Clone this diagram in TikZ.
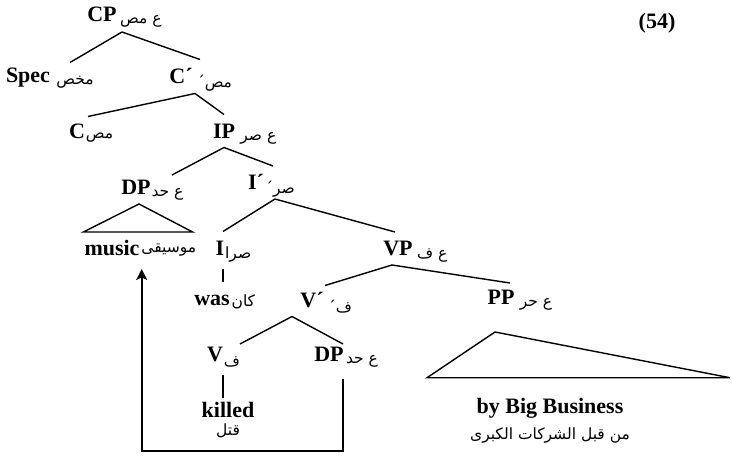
\documentclass[tikz,border=0pt]{standalone}
\usepackage{fontspec}
\setmainfont{Liberation Serif}
\newfontfamily\arabicfont[Script=Arabic]{DejaVu Sans}
\TeXXeTstate=1
\usetikzlibrary{arrows.meta}
\newcommand\artxt[1]{{\arabicfont\beginR #1\endR}}

\begin{document}
\begin{tikzpicture}[x=1pt,y=-1pt,
		cat/.style={font=\fontsize{22}{24}\selectfont\bfseries,inner xsep=0pt,inner ysep=9pt,
			text height=14.6pt,text depth=0pt},
		gloss/.style={font=\fontsize{15.5}{17}\selectfont,inner sep=0pt,anchor=west},
		word/.style={font=\fontsize{22}{24}\selectfont\bfseries,inner sep=1pt},
		br/.style={line width=1.4pt},
		mv/.style={line width=1.7pt,-{Stealth[length=11pt,width=11pt,inset=2.5pt]}}]
	\useasboundingbox (0,0) rectangle (732,457);
	
	% ============ labels of the tree ============
	\node[word] (exno) at (657,23) {(54)};
	\node[cat] (cp) at (102,14.5) {CP};
	\node[cat] (spec) at (28,75) {Spec};
	\node[cat] (cbar) at (181,76) {C´};
	\node[cat] (c) at (77,131) {C};
	\node[cat] (ip) at (224,131) {IP};
	\node[cat] (dp) at (136,187.5) {DP};
	\node[cat] (ibar) at (256,182.5) {I´};
	\node[cat] (i) at (220,248) {I};
	\node[cat] (vp) at (398,248.5) {VP};
	\node[cat] (vbar) at (312,300) {V´};
	\node[cat] (pp) at (501,297.5) {PP};
	\node[cat] (v) at (215,354.5) {V};
	\node[cat] (dpobj) at (329,354.5) {DP};
	
	% Arabic glosses to the right of each label
	\node[gloss] (cp-ar) at ([xshift=3pt,yshift=-7pt]cp.east) {\artxt{ع مص}};
	\node[gloss] (spec-ar) at ([xshift=6pt,yshift=-7pt]spec.east) {\artxt{مخص}};
	\node[gloss] (cbar-ar) at ([xshift=4pt,yshift=-7pt]cbar.east) {\artxt{مص´}};
	\node[gloss] (c-ar) at ([xshift=0.5pt,yshift=-7pt]c.east) {\artxt{مص}};
	\node[gloss] (ip-ar) at ([xshift=5pt,yshift=-7pt]ip.east) {\artxt{ع صر}};
	\node[gloss] (dp-ar) at ([xshift=0.5pt,yshift=-7pt]dp.east) {\artxt{ع حد}};
	\node[gloss] (ibar-ar) at ([xshift=1pt,yshift=-7pt]ibar.east) {\artxt{صر´}};
	\node[gloss] (i-ar) at ([xshift=0.5pt,yshift=-7pt]i.east) {\artxt{صرا}};
	\node[gloss] (vp-ar) at ([xshift=4pt,yshift=-7pt]vp.east) {\artxt{ع ف}};
	\node[gloss] (vbar-ar) at ([xshift=4pt,yshift=-7pt]vbar.east) {\artxt{ف´}};
	\node[gloss] (pp-ar) at ([xshift=5pt,yshift=-7pt]pp.east) {\artxt{ع حر}};
	\node[gloss] (v-ar) at ([xshift=0.5pt,yshift=-7pt]v.east) {\artxt{ف}};
	\node[gloss] (dpobj-ar) at ([xshift=2pt,yshift=-7pt]dpobj.east) {\artxt{ع حد}};
	
	% ============ words at the leaves ============
	\node[word] (music) at (112,248) {music};
	\node[gloss] (music-ar) at ([xshift=0.5pt,yshift=-2pt]music.east) {\artxt{موسيقى}};
	\node[word] (was) at (212,300) {was};
	\node[gloss] (was-ar) at ([xshift=0.5pt,yshift=-2pt]was.east) {\artxt{كان}};
	\node[word] (killed) at (228,410) {killed};
	\node[gloss,anchor=center] (killed-ar) at (228,431) {\artxt{قتل}};
	\node[word] (bbb) at (550,408) {by Big Business};
	\node[gloss,anchor=center] (bbb-ar) at (550,436) {\artxt{من قبل الشركات الكبرى}};
	
	% ============ branches ============
	\draw[br] ([xshift=20pt,yshift=-1pt]cp.south) -- ([xshift=42pt,yshift=-4pt]spec.north);
	\draw[br] ([xshift=20pt,yshift=-1pt]cp.south) -- ([xshift=19pt]cbar.north);
	\draw[br] ([xshift=14pt,yshift=-1pt]cbar.south) -- ([xshift=11pt,yshift=-2pt]c.north);
	\draw[br] ([xshift=14pt,yshift=-1pt]cbar.south) -- (ip.north);
	\draw[br] (ip.south) -- ([xshift=36pt,yshift=-4pt]dp.north);
	\draw[br] (ip.south) -- ([xshift=17pt]ibar.north);
	\draw[br] ([xshift=19pt]ibar.south) -- ([xshift=3pt]i.north);
	\draw[br] ([xshift=19pt]ibar.south) -- ([xshift=-3pt]vp.north);
	\draw[br] ([xshift=3pt,yshift=-5pt]i.south) -- ([xshift=11pt,yshift=12pt]was.north);
	\draw[br] ([xshift=-6pt]vp.south) -- ([xshift=13pt,yshift=-2pt]vbar.north);
	\draw[br] ([xshift=-6pt]vp.south) -- ([xshift=9pt,yshift=-2pt]pp.north);
	\draw[br] ([xshift=-20pt]vbar.south) -- ([xshift=25pt,yshift=-6pt]v.north);
	\draw[br] ([xshift=-20pt]vbar.south) -- ([xshift=14pt,yshift=-6pt]dpobj.north);
	\draw[br] ([xshift=8pt,yshift=-4pt]v.south) -- ([xshift=-5pt,yshift=3pt]killed.north);
	
	% triangles over the phrases that are not split up
	\draw[br] ([xshift=3pt]dp.south) -- ([yshift=7pt]music.north west)
		-- ([xshift=52pt,yshift=7pt]music.north east) -- cycle;
	\draw[br] ([xshift=-6pt,yshift=-18pt]pp.south) -- ([xshift=-123pt,yshift=19pt]bbb.north)
		-- ([xshift=180pt,yshift=19pt]bbb.north) -- cycle;
	
	% movement of the object DP
	\draw[mv] ([xshift=14pt,yshift=-8pt]dpobj.south) -- ++(0,72)
		-| ([xshift=1pt,yshift=-12pt]music.south east);
	
\end{tikzpicture}
\end{document}
